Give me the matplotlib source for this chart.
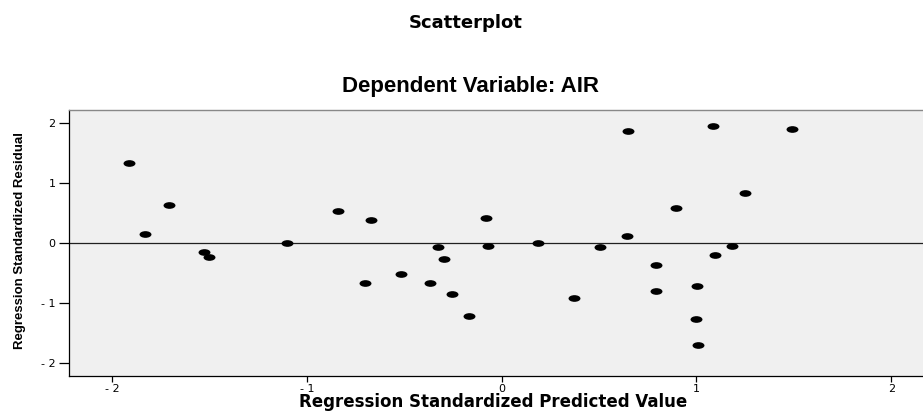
import matplotlib
matplotlib.use("Agg")
import matplotlib.pyplot as plt
from matplotlib.path import Path
from matplotlib.transforms import Affine2D

# ============================================================================
# 1. Data
# ============================================================================
pred_value = [-1.912, -1.831, -1.708, -1.527, -1.503, -1.100,
              -0.839, -0.702, -0.671, -0.515, -0.370, -0.325, -0.298,
              -0.255, -0.166, -0.081, -0.072, 0.185, 0.371, 0.503,
              0.643, 0.650, 0.790, 0.794, 0.893, 0.996, 1.003, 1.006,
              1.085, 1.095, 1.184, 1.247, 1.490]
residual = [1.343, 0.150, 0.633, -0.140, -0.223, 0.005,
            0.543, -0.662, 0.393, -0.507, -0.657, -0.067, -0.262,
            -0.845, -1.217, 0.427, -0.045, 0.005, -0.907, -0.062,
            0.127, 1.872, -0.362, -0.800, 0.593, -1.267, -0.712, -1.690,
            1.955, -0.195, -0.040, 0.843, 1.905]

x_ticks = [-2, -1, 0, 1, 2]
x_tick_labels = ['- 2', '- 1', '0', '1', '2']
y_ticks = [-2, -1, 0, 1, 2]
y_tick_labels = ['- 2', '- 1', '0', '1', '2']

# ============================================================================
# 2. Figure and axes
# ============================================================================
fig = plt.figure(figsize=(9.23, 4.12), dpi=100)
ax = fig.add_axes([0.0751, 0.0874, 0.9249, 0.6456])
ax.set_facecolor('#F0F0F0')

# wide elliptical dots as in the original
ellipse = Path.unit_circle().transformed(Affine2D().scale(1.0, 0.56))
ax.plot(pred_value, residual, linestyle='none', marker=ellipse,
        markersize=8.6, color='black', markeredgewidth=0, zorder=3)

ax.axhline(0, color='#202020', linewidth=0.9, zorder=2)

ax.set_xlim(-2.22, 2.163)
ax.set_ylim(-2.212, 2.222)

ax.set_xticks(x_ticks)
ax.set_xticklabels(x_tick_labels)
ax.set_yticks(y_ticks)
ax.set_yticklabels(y_tick_labels)
ax.tick_params(axis='x', direction='out', length=4.3, width=0.9, pad=1.5,
               labelsize=8, colors='black')
ax.tick_params(axis='y', direction='out', length=7, width=0.9, pad=3,
               labelsize=8, colors='black')

ax.spines['right'].set_visible(False)
ax.spines['top'].set_color('#888888')
ax.spines['top'].set_linewidth(1.0)
ax.spines['left'].set_linewidth(0.9)
ax.spines['bottom'].set_linewidth(0.9)

# ============================================================================
# 3. Texts
# ============================================================================
ax.set_xlabel('Regression Standardized Predicted Value', fontsize=12,
              fontweight='bold', family='DejaVu Sans', va='center')
ax.xaxis.set_label_coords(0.4963, -0.0985)
ax.set_ylabel('Regression Standardized Residual', fontsize=9.5,
              fontweight='bold', family='Liberation Sans', va='center')
ax.yaxis.set_label_coords(-0.0577, 0.51)

fig.text(0.505, 0.945, 'Scatterplot', ha='center', va='center',
         fontsize=13, fontweight='bold', family='DejaVu Sans')
fig.text(0.510, 0.789, 'Dependent Variable: AIR', ha='center', va='center',
         fontsize=16, fontweight='bold', family='Liberation Sans')

fig.savefig('out.png', dpi=100)
